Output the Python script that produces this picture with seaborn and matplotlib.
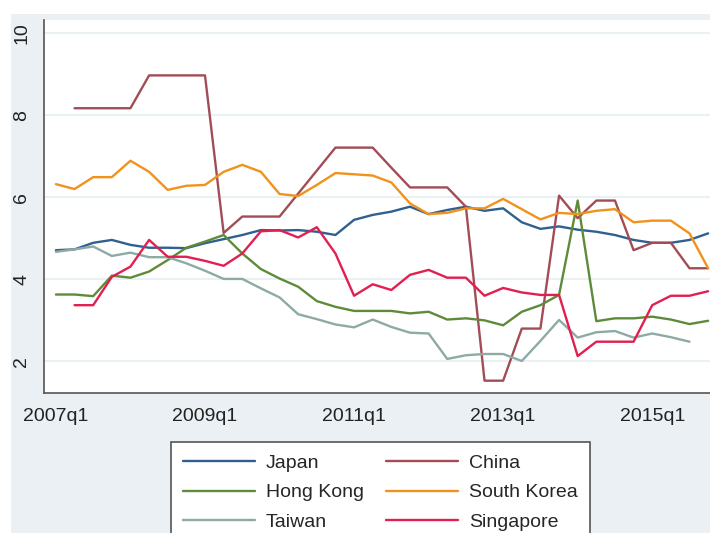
import numpy as np
import pandas as pd
import seaborn as sns
import matplotlib.pyplot as plt
from matplotlib.patches import Rectangle

nan = np.nan

# quarters 2007q1 .. 2015q4 as index 0..35
quarters = list(range(36))
tick_pos = [0, 8, 16, 24, 32]
tick_labels = ["2007q1", "2009q1", "2011q1", "2013q1", "2015q1"]

japan = [4.71, 4.73, 4.89, 4.96, 4.84, 4.77, 4.77, 4.76, 4.88, 4.98, 5.08, 5.20,
         5.19, 5.20, 5.16, 5.08, 5.45, 5.57, 5.65, 5.77, 5.59, 5.69, 5.77, 5.67,
         5.73, 5.39, 5.23, 5.29, 5.21, 5.16, 5.08, 4.96, 4.89, 4.89, 4.96, 5.12]
china = [nan, 8.17, 8.17, 8.17, 8.17, 8.97, 8.97, 8.97, 8.97, 5.13, 5.53, 5.53,
         5.53, 6.09, 6.65, 7.21, 7.21, 7.21, 6.72, 6.24, 6.24, 6.24, 5.77, 1.53,
         1.53, 2.80, 2.80, 6.04, 5.49, 5.92, 5.92, 4.71, 4.89, 4.89, 4.27, 4.27]
hong_kong = [3.63, 3.63, 3.59, 4.09, 4.04, 4.19, 4.47, 4.77, 4.92, 5.08, 4.63, 4.25,
             4.02, 3.82, 3.47, 3.33, 3.23, 3.23, 3.23, 3.17, 3.21, 3.02, 3.05, 3.00,
             2.88, 3.21, 3.37, 3.62, 5.92, 2.98, 3.05, 3.05, 3.09, 3.02, 2.91, 2.99]
south_korea = [6.32, 6.20, 6.49, 6.49, 6.89, 6.62, 6.18, 6.28, 6.30, 6.62, 6.79, 6.62,
               6.08, 6.03, 6.30, 6.59, 6.56, 6.53, 6.36, 5.85, 5.59, 5.62, 5.73, 5.73,
               5.96, 5.71, 5.46, 5.62, 5.59, 5.67, 5.71, 5.39, 5.43, 5.43, 5.12, 4.27]
taiwan = [4.67, 4.73, 4.80, 4.57, 4.65, 4.54, 4.54, 4.39, 4.21, 4.01, 4.01, 3.78,
          3.56, 3.15, 3.03, 2.90, 2.83, 3.02, 2.84, 2.70, 2.68, 2.06, 2.15, 2.18,
          2.18, 2.01, 2.50, 3.01, 2.58, 2.71, 2.74, 2.58, 2.68, 2.59, 2.48, nan]
singapore = [nan, 3.37, 3.37, 4.06, 4.31, 4.96, 4.55, 4.55, 4.45, 4.33, 4.63, 5.17,
             5.20, 5.02, 5.27, 4.63, 3.60, 3.88, 3.74, 4.11, 4.23, 4.04, 4.04, 3.60,
             3.79, 3.68, 3.62, 3.62, 2.13, 2.48, 2.48, 2.48, 3.37, 3.60, 3.60, 3.71]

countries = ["Japan", "China", "Hong Kong", "South Korea", "Taiwan", "Singapore"]
series = [japan, china, hong_kong, south_korea, taiwan, singapore]
colors = {"Japan": "#2F6090", "China": "#A24D56", "Hong Kong": "#5E8B3A",
          "South Korea": "#F0921C", "Taiwan": "#8DABA3", "Singapore": "#E11F50"}

df = pd.concat([pd.DataFrame({"q": quarters, "value": vals, "country": name})
                for name, vals in zip(countries, series)])
df = df.dropna()

sns.set_style("white")
plt.rcParams['font.family'] = ['Liberation Sans', 'DejaVu Sans']

W, H = 710, 533
fig = plt.figure(figsize=(W / 100, H / 100), dpi=100, facecolor="white")
# stata-like graph region
fig.patches.append(Rectangle((11 / W, 0), 1, 1 - 14 / H, transform=fig.transFigure,
                             facecolor="#EAF0F3", edgecolor="none", zorder=-10))

ax = fig.add_axes([44 / W, 1 - 393 / H, 1 - 44 / W, (393 - 20) / H])
ax.set_facecolor("white")

sns.lineplot(data=df, x="q", y="value", hue="country", hue_order=countries,
             palette=colors, estimator=None, linewidth=1.7, ax=ax)

ax.set_xlim(-0.64, 35.1)
ax.set_ylim(1.23, 10.32)
ax.set_xticks(tick_pos)
ax.set_xticklabels(tick_labels, fontsize=14, color="#222222")
ax.set_yticks([2, 4, 6, 8, 10])
ax.set_yticklabels(["2", "4", "6", "8", "10"], fontsize=14, color="#222222",
                   rotation=90, va="center")
ax.set_xlabel("")
ax.set_ylabel("")
ax.yaxis.grid(True, color="#EAF1F3", linewidth=1.5)
ax.set_axisbelow(True)

for s in ["top", "right"]:
    ax.spines[s].set_visible(False)
for s in ["left", "bottom"]:
    ax.spines[s].set_color("#555555")
    ax.spines[s].set_linewidth(1.2)
ax.tick_params(axis="x", direction="out", length=8, width=1, color="#555555", pad=3)
ax.tick_params(axis="y", direction="out", length=6, width=1, color="#555555", pad=4)

h, l = ax.get_legend_handles_labels()
ax.get_legend().remove()
lookup = dict(zip(l, h))
order = ["Japan", "Hong Kong", "Taiwan", "China", "South Korea", "Singapore"]
leg = fig.legend([lookup[k] for k in order], order, loc="upper left",
                 bbox_to_anchor=(171 / W, 1 - 442 / H), ncol=2, fontsize=14,
                 frameon=True, fancybox=False, framealpha=1, edgecolor="#555555",
                 borderaxespad=0, borderpad=0.62, handlelength=3.7,
                 handletextpad=0.55, columnspacing=1.15, labelspacing=0.62)
leg.get_frame().set_linewidth(1.2)

fig.savefig("out.png", dpi=100)
